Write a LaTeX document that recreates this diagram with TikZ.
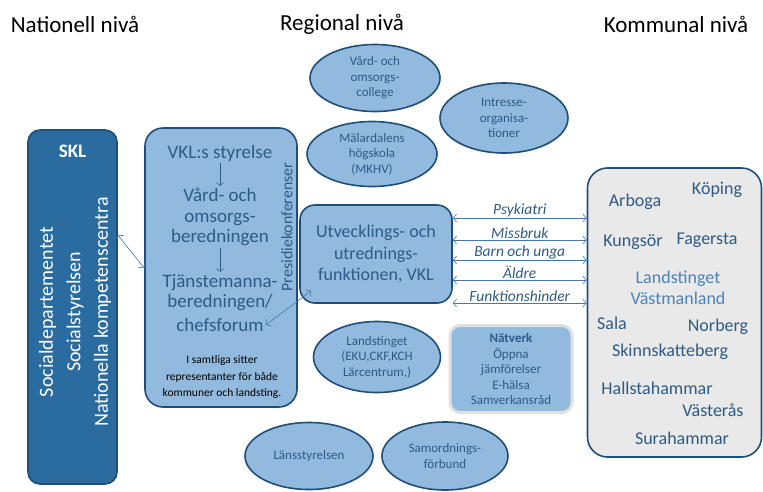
\documentclass[tikz,border=0pt]{standalone}
\usepackage{fontspec}
\setmainfont{Carlito}
\usetikzlibrary{shapes.geometric}
\usetikzlibrary{positioning, arrows.meta}

\definecolor{skldark}{HTML}{2B6CA0}
\definecolor{edgeblue}{HTML}{1F4E79}
\definecolor{fillblue}{HTML}{92BADE}
\definecolor{textblue}{HTML}{2D5B86}
\definecolor{linkblue}{HTML}{4678AA}
\definecolor{kommungray}{HTML}{E9E9E9}
\definecolor{lightlink}{HTML}{4A84B8}

\begin{document}
\begin{tikzpicture}[x=1pt, y=-1pt]
        % Define styles
        \tikzstyle{levelhead} = [font=\fontsize{23}{26}\selectfont, text=black]
        \tikzstyle{orgbox} = [draw=edgeblue, line width=1.6pt, fill=fillblue, text=textblue]
        \tikzstyle{orgellipse} = [orgbox, ellipse, inner sep=0pt, align=center, font=\fontsize{13}{15.5}\selectfont]
        \tikzstyle{vkltext} = [text=textblue, align=center, font=\fontsize{19}{20.5}\selectfont, inner sep=2pt]
        \tikzstyle{kommun} = [text=textblue, font=\fontsize{18}{21}\selectfont, inner sep=1pt]
        \tikzstyle{flowlabel} = [text=textblue, font=\fontsize{15.5}{17}\selectfont\itshape, inner sep=1pt]
        \tikzstyle{link} = [draw=linkblue, line width=0.6pt, {Straight Barb[length=3.5pt,width=8pt]}-{Straight Barb[length=3.5pt,width=8pt]}]
        \tikzstyle{down} = [draw=textblue, line width=0.5pt, -{Straight Barb[length=3pt,width=7pt]}]

        \useasboundingbox (0,0) rectangle (763,491);

        % Level headings
        \node[levelhead] (national) at (75,24) {Nationell nivå};
        \node[levelhead] (regional) at (342,24) {Regional nivå};
        \node[levelhead] (kommunal) at (676,24) {Kommunal nivå};

        % Draw shapes
        \node[orgbox, fill=skldark, rounded corners=12pt, minimum width=89pt, minimum height=354pt] (skl) at (72.5,307) {};
        \node[text=white, font=\fontsize{19}{21}\selectfont\bfseries] (skltitle) at (72.5,151) {SKL};
        \node[text=white, rotate=90, align=center, font=\fontsize{20}{27.5}\selectfont] (sklgroup) at (75,312) {
                Socialdepartementet \\
                Socialstyrelsen \\
                Nationella kompetenscentra
        };

        \node[orgbox, rounded corners=18pt, minimum width=152pt, minimum height=279pt] (vkl) at (221,267.5) {};
        \node[vkltext] (styrelse) at (220,153) {VKL:s styrelse};
        \node[vkltext] (vardoms) at (220,217) {Vård- och \\ omsorgs- \\ beredningen};
        \node[vkltext] (tjanst) at (220,292.5) {Tjänstemanna- \\ beredningen/};
        \node[vkltext] (chefsforum) at (220,325) {chefsforum};
        \node[text=black, align=center, font=\fontsize{11.5}{16.5}\selectfont] (samtliga) at (222,377) {
                I samtliga sitter \\
                representanter för både \\
                kommuner och landsting.
        };
        \node[text=textblue, rotate=90, font=\fontsize{16}{18}\selectfont] (presidie) at (287,227) {Presidiekonferenser};

        \node[orgbox, rounded corners=15pt, minimum width=152pt, minimum height=98pt, align=center, font=\fontsize{18}{21.5}\selectfont] (utv) at (376,254) {
                Utvecklings- och \\
                utrednings- \\
                funktionen, VKL
        };

        \node[orgbox, fill=kommungray, rounded corners=20pt, minimum width=174pt, minimum height=289pt] (kommun) at (674.5,312.5) {};
        \node[kommun] (arboga) at (635,202) {Arboga};
        \node[kommun] (koping) at (717,190) {Köping};
        \node[kommun] (kungsor) at (633,242) {Kungsör};
        \node[kommun] (fagersta) at (707,240) {Fagersta};
        \node[kommun, text=lightlink, align=center] (landvm) at (678,288) {Landstinget \\ Västmanland};
        \node[kommun] (sala) at (612,323) {Sala};
        \node[kommun] (norberg) at (718,327) {Norberg};
        \node[kommun] (skinn) at (670,352) {Skinnskatteberg};
        \node[kommun] (hallsta) at (657,388) {Hallstahammar};
        \node[kommun] (vasteras) at (713,410) {Västerås};
        \node[kommun] (sura) at (682,438) {Surahammar};

        \node[orgellipse, minimum width=130pt, minimum height=67pt] (college) at (375,78) {Vård- och \\ omsorgs- \\ college};
        \node[orgellipse, minimum width=130pt, minimum height=65pt] (mdh) at (372,154) {Mälardalens \\ högskola \\ (MKHV)};
        \node[orgellipse, minimum width=128pt, minimum height=70pt] (intresse) at (504,118) {Intresse- \\ organisa- \\ tioner};
        \node[orgellipse, minimum width=127pt, minimum height=71pt] (landsting) at (377,357) {Landstinget \\ (EKU,CKF,KCH \\ Lärcentrum,)};
        \node[orgellipse, minimum width=128pt, minimum height=67pt] (lans) at (309,456) {Länsstyrelsen};
        \node[orgellipse, minimum width=126pt, minimum height=68pt] (samord) at (445,456) {Samordnings- \\ förbund};

        \node[draw=black!12, line width=3pt, fill=fillblue, rounded corners=10pt, minimum width=122pt, minimum height=87pt, text=textblue, align=center, font=\fontsize{13}{15.5}\selectfont] (natverk) at (511,369) {
                \textbf{Nätverk} \\
                Öppna \\
                jämförelser \\
                E-hälsa \\
                Samverkansråd
        };

        % Draw arrows
        \draw[down] (styrelse) -- (vardoms);
        \draw[down] (vardoms) -- (tjanst);
        \draw[link] (skl.east |- 0,235) -- (vkl.west |- 0,268);
        \draw[link] (chefsforum.east) -- ([xshift=12pt, yshift=13pt]utv.south west);
        \foreach \flow/\y in {Psykiatri/218, Missbruk/240, Barn och unga/260, Äldre/280, Funktionshinder/303}
                \draw[link] (utv.east |- 0,\y) -- (kommun.west |- 0,\y) node[midway, above, flowlabel] {\flow};
    \end{tikzpicture}
\end{document}
